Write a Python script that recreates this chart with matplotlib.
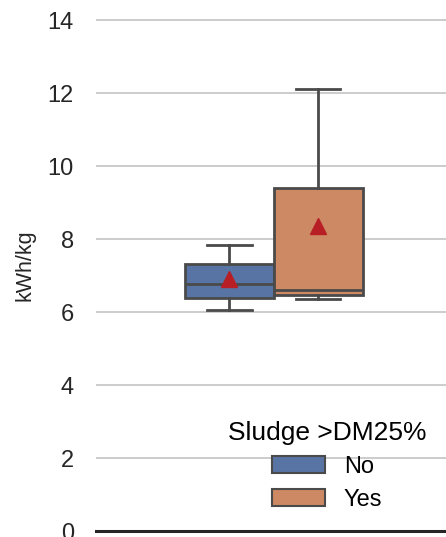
import matplotlib
matplotlib.use("Agg")
import matplotlib.pyplot as plt
from matplotlib.patches import Patch

# summary stats (kWh/kg)
groups = ["No", "Yes"]
whislo = [6.06, 6.36]
q1 = [6.39, 6.48]
med = [6.77, 6.60]
q3 = [7.31, 9.40]
whishi = [7.84, 12.12]
means = [6.90, 8.36]

colors = ["#5874a4", "#cd8963"]
line_color = "#4a4a4a"
mean_color = "#b81f25"

plt.rcParams["font.family"] = ["Liberation Sans", "DejaVu Sans"]

fig = plt.figure(figsize=(4.46, 5.37), dpi=100)
ax = fig.add_axes([96 / 446, 6 / 537, 350 / 446, 531 / 537])

stats = []
for i, name in enumerate(groups):
    stats.append({
        "label": name,
        "whislo": whislo[i],
        "q1": q1[i],
        "med": med[i],
        "q3": q3[i],
        "whishi": whishi[i],
        "mean": means[i],
        "fliers": [],
    })

positions = [-0.2, 0.2]
line = {"color": line_color, "linewidth": 2.0}
parts = ax.bxp(stats, positions=positions, widths=0.4, patch_artist=True,
               showmeans=True, capwidths=0.2,
               boxprops={"edgecolor": line_color, "linewidth": 2.0},
               medianprops=line, whiskerprops=line, capprops=line,
               meanprops={"marker": "^", "markerfacecolor": mean_color,
                          "markeredgecolor": mean_color, "markersize": 11},
               zorder=3)
for box, c in zip(parts["boxes"], colors):
    box.set_facecolor(c)

ax.set_xlim(-0.80, 0.775)
ax.set_ylim(0, 14.55)
ax.set_yticks(range(0, 15, 2))
ax.set_xticks([])
ax.grid(axis="y", color="#cccccc", linewidth=1.4, zorder=0)
ax.set_axisbelow(True)
for side in ["left", "right", "top"]:
    ax.spines[side].set_visible(False)
ax.spines["bottom"].set_color("#262626")
ax.spines["bottom"].set_linewidth(2.2)
ax.tick_params(axis="y", length=0, pad=16, labelsize=17, labelcolor="#262626")
ax.set_ylabel("kWh/kg", fontsize=15.5, color="#262626", labelpad=9)

handles = [Patch(facecolor=c, edgecolor=line_color, linewidth=1.5) for c in colors]
ax.legend(handles, groups, title="Sludge >DM25%", frameon=False,
          fontsize=17, title_fontsize=19, loc="center",
          bbox_to_anchor=(327 / 446, 1 - 466 / 537),
          bbox_transform=fig.transFigure,
          handlelength=2.25, handleheight=0.75, labelspacing=0.45)

fig.savefig("out.png", dpi=100)
